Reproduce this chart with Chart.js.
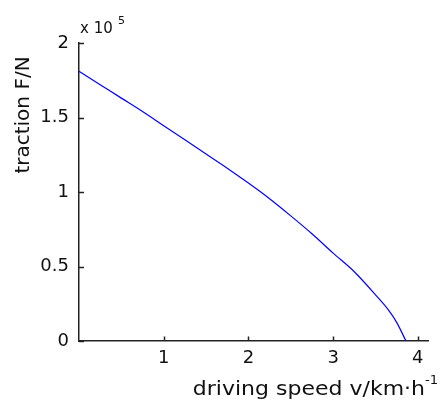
<!DOCTYPE html>
<html>
<head>
<meta charset="utf-8">
<script src="https://cdn.jsdelivr.net/npm/chart.js@4/dist/chart.umd.min.js"></script>
<style>
  body { margin: 0; background: #fff; }
</style>
</head>
<body>
<canvas id="chart" width="443" height="403"></canvas>
<script>
// driving speed (km/h) and traction (x 10^5 N)
const speed = [0, 0.25, 0.5, 0.75, 1, 1.25, 1.5, 1.75, 2, 2.25, 2.5, 2.75, 3, 3.25, 3.5, 3.65, 3.75, 3.86];
const traction = [1.81, 1.72, 1.63, 1.54, 1.445, 1.35, 1.255, 1.16, 1.06, 0.955, 0.84, 0.72, 0.59, 0.465, 0.31, 0.21, 0.125, 0];
const xTicks = [1, 2, 3, 4];
const yTicks = [0, 0.5, 1, 1.5, 2];

const FONT = 'DejaVu Sans';

// matlab style inward ticks + axis titles
const decorations = {
  id: 'decorations',
  afterDraw(chart) {
    const { ctx, chartArea, scales } = chart;
    const x = scales.x, y = scales.y;
    ctx.save();
    ctx.strokeStyle = '#222';
    ctx.lineWidth = 1.5;
    ctx.beginPath();
    xTicks.forEach(v => {
      const px = Math.round(x.getPixelForValue(v)) + 0.5;
      ctx.moveTo(px, chartArea.bottom);
      ctx.lineTo(px, chartArea.bottom - 4.5);
    });
    yTicks.forEach(v => {
      const py = Math.round(y.getPixelForValue(v)) + 0.5;
      ctx.moveTo(chartArea.left, py);
      ctx.lineTo(chartArea.left + 5, py);
    });
    ctx.stroke();

    ctx.fillStyle = '#111';
    // exponent above the y axis
    ctx.font = '15px "' + FONT + '"';
    ctx.textAlign = 'left';
    ctx.textBaseline = 'alphabetic';
    ctx.fillText('x 10', 80, 33);
    ctx.font = '11px "' + FONT + '"';
    ctx.fillText('5', 118, 24);

    // x title (the picture is a bit stretched sideways)
    ctx.save();
    ctx.translate(425, 395);
    ctx.scale(1.1, 1);
    ctx.font = '20px "' + FONT + '"';
    ctx.textAlign = 'right';
    ctx.fillText('driving speed v/km\u00b7h', 0, 0);
    ctx.font = '12px "' + FONT + '"';
    ctx.textAlign = 'left';
    ctx.fillText('-1', 0, -11);
    ctx.restore();

    // y title
    ctx.translate(29, 115);
    ctx.rotate(-Math.PI / 2);
    ctx.font = '20px "' + FONT + '"';
    ctx.textAlign = 'center';
    ctx.fillText('traction F/N', 0, 0);
    ctx.restore();
  }
};

new Chart(document.getElementById('chart'), {
  type: 'line',
  data: {
    datasets: [{
      data: speed.map((s, i) => ({ x: s, y: traction[i] })),
      borderColor: '#0000ff',
      borderWidth: 1.2,
      pointRadius: 0,
      cubicInterpolationMode: 'monotone',
      fill: false
    }]
  },
  options: {
    responsive: false,
    animation: false,
    layout: { padding: { top: 43, right: 15, left: 0, bottom: 0 } },
    plugins: { legend: { display: false }, tooltip: { enabled: false } },
    scales: {
      x: {
        type: 'linear',
        min: 0,
        max: 4.12,
        afterBuildTicks: s => { s.ticks = xTicks.map(v => ({ value: v })); },
        afterFit: s => { s.height = 62; },
        grid: { display: false, drawTicks: false },
        border: { color: '#222', width: 1.5 },
        ticks: {
          color: '#111',
          font: { family: FONT, size: 18 },
          padding: 7,
          maxRotation: 0,
          callback: v => String(v)
        }
      },
      y: {
        min: 0,
        max: 2,
        afterBuildTicks: s => { s.ticks = yTicks.map(v => ({ value: v })); },
        afterFit: s => { s.width = 79; },
        grid: { display: false, drawTicks: false },
        border: { color: '#222', width: 1.5 },
        ticks: {
          color: '#111',
          font: { family: FONT, size: 18 },
          padding: 10,
          callback: v => String(v)
        }
      }
    }
  },
  plugins: [decorations]
});
</script>
</body>
</html>
